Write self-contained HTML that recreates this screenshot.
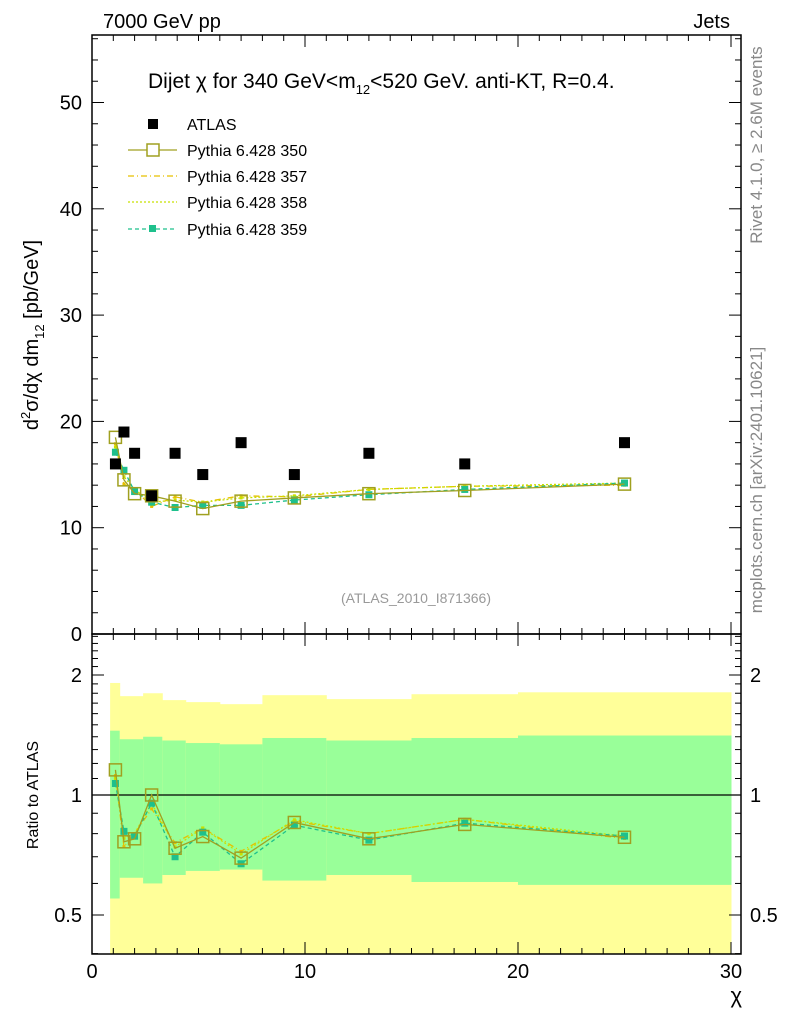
<!DOCTYPE html>
<html><head><meta charset="utf-8"><style>
body{margin:0;background:#fff;}
svg{display:block;font-family:"Liberation Sans",sans-serif;}
</style></head><body>
<svg id="c" width="786" height="1024" viewBox="0 0 786 1024" xmlns="http://www.w3.org/2000/svg"></svg>
<script>
const xs = [1.1,1.5,2.0,2.8,3.9,5.2,7.0,9.5,13,17.5,25];
const atlas = [16,19,17,13,17,15,18,15,17,16,18];
const p350 = [18.5,14.5,13.2,13.0,12.5,11.8,12.5,12.8,13.2,13.5,14.1];
const p357 = [17.9,14.1,13.6,12.0,12.9,12.4,13.0,12.9,13.6,13.9,14.0];
const p358 = [17.6,14.8,13.6,12.4,12.6,12.4,12.8,13.0,13.6,13.9,14.2];
const p359 = [17.1,15.4,13.4,12.4,11.9,12.1,12.1,12.6,13.1,13.6,14.2];
const bandEdges = [0.85,1.3,2.4,3.3,4.4,6,8,11,15,20,30];
const yelHi = [1.91,1.77,1.80,1.73,1.71,1.69,1.78,1.74,1.79,1.81];
const grnHi = [1.45,1.38,1.40,1.37,1.35,1.34,1.39,1.37,1.39,1.41];
const grnLo = [0.55,0.62,0.60,0.63,0.645,0.65,0.61,0.63,0.605,0.595];
const xTicks = [0,10,20,30];
const yTicksTop = [0,10,20,30,40,50];
const rTicks = [0.5,1,2];

const NS="http://www.w3.org/2000/svg", svg=document.getElementById('c');
const L=92,R=741,T=35,M=634,B=954;
const X=v=>L+v*21.3;
const Y=v=>634-v*10.63;
const RY=r=>795-120*Math.log2(r);
function el(t,a,p){const e=document.createElementNS(NS,t);for(const k in a)e.setAttribute(k,a[k]);(p||svg).appendChild(e);return e;}
function txt(s,a){const e=el('text',a);e.textContent=s;return e;}

const gB=el('g',{});


for(let i=0;i<yelHi.length;i++){
  const x0=X(bandEdges[i]),x1=X(bandEdges[i+1]);
  el('rect',{x:x0,y:RY(yelHi[i]),width:x1-x0+0.5,height:B-RY(yelHi[i]),fill:'#ffff99'},gB);
  el('rect',{x:x0,y:RY(grnHi[i]),width:x1-x0+0.5,height:RY(grnLo[i])-RY(grnHi[i]),fill:'#99ff99'},gB);
}
el('line',{x1:L,x2:R,y1:RY(1),y2:RY(1),stroke:'#000','stroke-width':1.2});

el('rect',{x:L,y:T,width:R-L,height:M-T,fill:'none',stroke:'#000','stroke-width':1.5});
el('rect',{x:L,y:M,width:R-L,height:B-M,fill:'none',stroke:'#000','stroke-width':1.5});

const tk=el('g',{stroke:'#000','stroke-width':1});
for(let v=0;v<=30;v++){
  const len=v%10==0?12:6;
  for(const [y0,d] of [[T,1],[M,-1],[M,1],[B,-1]]) el('line',{x1:X(v),x2:X(v),y1:y0,y2:y0+d*len},tk);
}
for(let v=0;v<=56;v+=2){
  const len=v%10==0?12:6;
  el('line',{x1:L,x2:L+len,y1:Y(v),y2:Y(v)},tk);
  el('line',{x1:R,x2:R-len,y1:Y(v),y2:Y(v)},tk);
}
const rmin=[0.4,0.5,0.6,0.7,0.8,0.9,1,1.1,1.2,1.3,1.4,1.5,1.6,1.7,1.8,1.9,2,2.1,2.2,2.3,2.4,2.5];
rmin.forEach(r=>{const len=(r==0.5||r==1||r==2)?12:6;const y=RY(r);if(y<M||y>B)return;
  el('line',{x1:L,x2:L+len,y1:y,y2:y},tk);el('line',{x1:R,x2:R-len,y1:y,y2:y},tk);});

xTicks.forEach(v=>{const t=txt(String(v),{x:X(v),y:978,'font-size':20,'text-anchor':'middle'});
 });
yTicksTop.forEach(v=>{const t=txt(String(v),{x:82,y:Y(v)+7,'font-size':20,'text-anchor':'end'});
 });
rTicks.forEach(r=>{const s=String(r);
 const t=txt(s,{x:82,y:RY(r)+7,'font-size':20,'text-anchor':'end'});
 
 const t2=txt(s,{x:750,y:RY(r)+7,'font-size':20});
 });

function series(vals,color,dash,mk,name,ratio){
  const g=el('g',{});
  
  
  const yf=ratio?(v,i)=>RY(v/atlas[i]):(v)=>Y(v);
  el('polyline',{points:vals.map((v,i)=>X(xs[i])+','+yf(v,i)).join(' '),fill:'none',stroke:color,'stroke-width':1.3,'stroke-dasharray':dash},g);
  vals.forEach((v,i)=>{const x=X(xs[i]),y=yf(v,i);
    if(mk=='sq') el('rect',{x:x-6,y:y-6,width:12,height:12,fill:'none',stroke:color,'stroke-width':1.5},g);
    else el('rect',{x:x-mk/2,y:y-mk/2,width:mk,height:mk,fill:color},g);});
}
function all(ratio){
  series(p357,'#e6c000','6,3,1,3',3,ratio?'ratio-357':'series-357',ratio);
  series(p358,'#c8e000','2,2',3,ratio?'ratio-358':'series-358',ratio);
  series(p359,'#1ec08c','4,3',7,ratio?'ratio-359':'series-359',ratio);
  series(p350,'#a0a020','', 'sq',ratio?'ratio-350':'series-350',ratio);
}
all(false);all(true);
const ga=el('g',{});


atlas.forEach((v,i)=>el('rect',{x:X(xs[i])-5.5,y:Y(v)-5.5,width:11,height:11,fill:'#000'},ga));

const lg=el('g',{});


el('rect',{x:148,y:119,width:10,height:10,fill:'#000'},lg);
const leg=[['ATLAS',124],['Pythia 6.428 350',150],['Pythia 6.428 357',176],['Pythia 6.428 358',202],['Pythia 6.428 359',229]];
leg.forEach(([s,y])=>{const t=txt(s,{x:187,y:y+6,'font-size':16});lg.appendChild(t);});
el('line',{x1:128,x2:177,y1:150,y2:150,stroke:'#a0a020','stroke-width':1.3},lg);
el('rect',{x:147,y:144,width:12,height:12,fill:'#fff',stroke:'#a0a020','stroke-width':1.5},lg);
el('line',{x1:128,x2:177,y1:176,y2:176,stroke:'#e6c000','stroke-width':1.3,'stroke-dasharray':'6,3,1,3'},lg);
el('line',{x1:128,x2:177,y1:202,y2:202,stroke:'#c8e000','stroke-width':1.3,'stroke-dasharray':'2,2'},lg);
el('line',{x1:128,x2:177,y1:229,y2:229,stroke:'#1ec08c','stroke-width':1.3,'stroke-dasharray':'4,3'},lg);
el('rect',{x:149,y:225,width:7,height:7,fill:'#1ec08c'},lg);
</script>
<svg width="786" height="1024" style="position:absolute;left:0;top:0;font-family:'Liberation Sans',sans-serif" xmlns="http://www.w3.org/2000/svg">
<text x="103" y="28" font-size="20">7000 GeV pp</text>
<text x="730" y="28" font-size="20" text-anchor="end">Jets</text>
<text x="148" y="88" font-size="21">Dijet χ for 340 GeV&lt;m<tspan font-size="13" dy="6">12</tspan><tspan dy="-6">&lt;520 GeV.  anti-KT, R=0.4.</tspan></text>
<text x="416" y="603" font-size="14" fill="#999" text-anchor="middle">(ATLAS_2010_I871366)</text>
<text transform="translate(38,335) rotate(-90)" font-size="20" text-anchor="middle">d<tspan font-size="13" dy="-8">2</tspan><tspan dy="8">σ/dχ dm</tspan><tspan font-size="13" dy="6">12</tspan><tspan dy="-6"> [pb/GeV]</tspan></text>
<text transform="translate(38,795) rotate(-90)" font-size="16" text-anchor="middle">Ratio to ATLAS</text>
<text x="742" y="1003" font-size="22" text-anchor="end">χ</text>
<text transform="translate(762,145) rotate(-90)" font-size="17" fill="#888" text-anchor="middle">Rivet 4.1.0, ≥ 2.6M events</text>
<text transform="translate(762,480) rotate(-90)" font-size="17" fill="#888" text-anchor="middle">mcplots.cern.ch [arXiv:2401.10621]</text>
</svg>
</body></html>
